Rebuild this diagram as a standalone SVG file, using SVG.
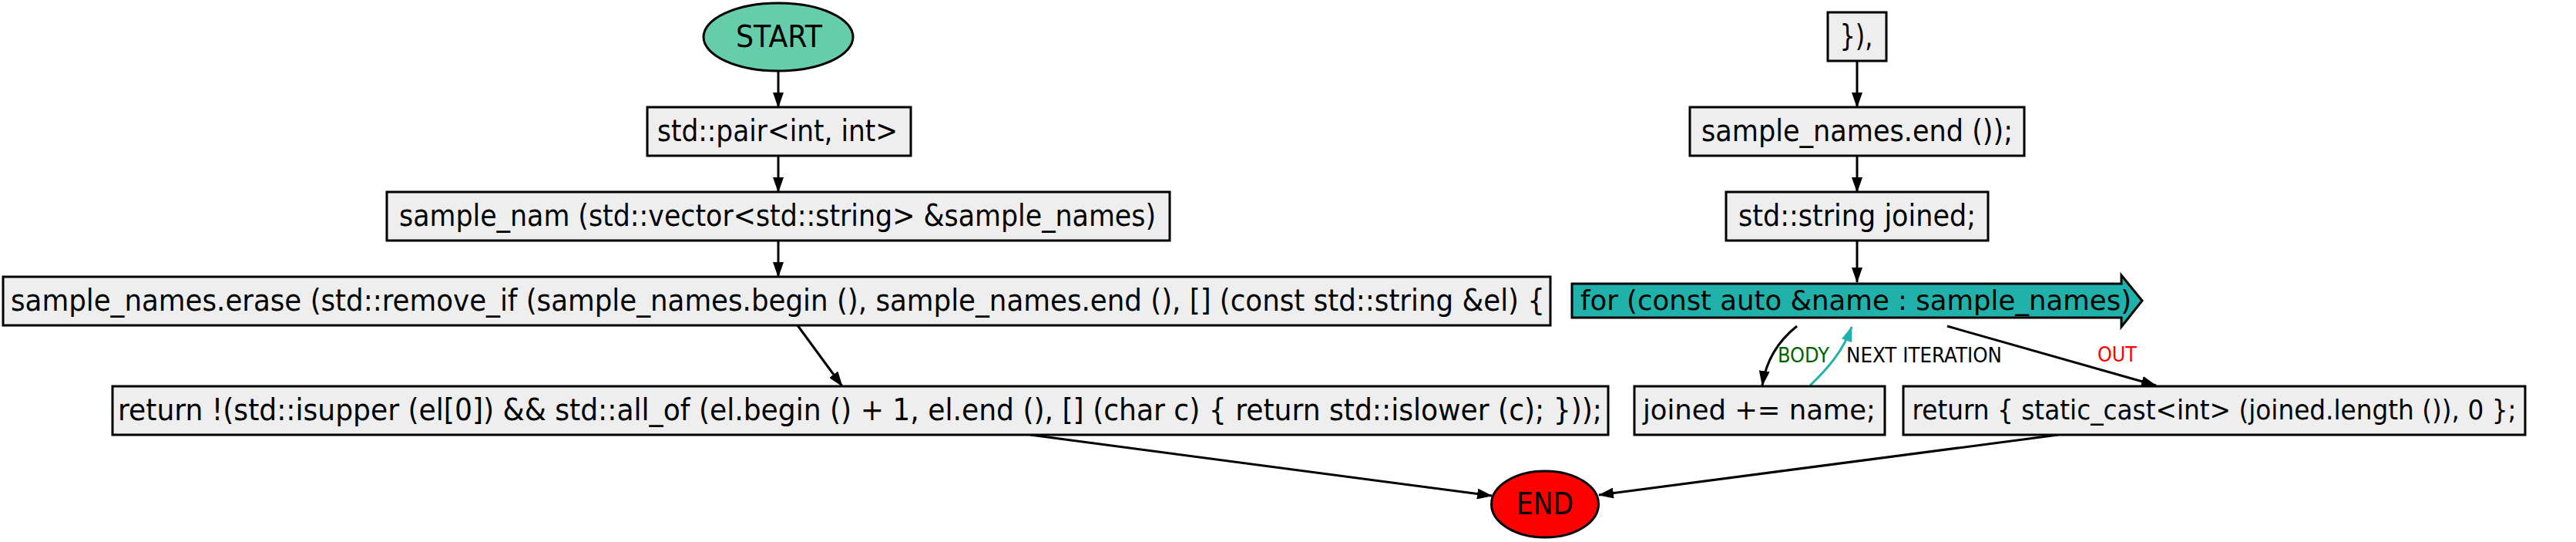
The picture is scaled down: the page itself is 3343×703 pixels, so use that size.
<svg xmlns="http://www.w3.org/2000/svg" width="3343" height="703" viewBox="0 0 3343 703">
<style>
text{font-family:"DejaVu Sans",sans-serif;}
.n{font-size:38.5px;text-anchor:middle;fill:#000;}
.box{fill:#eeeeee;stroke:#000;stroke-width:3;}
.e{fill:none;stroke:#000;stroke-width:3;}
.lbl{font-size:26.5px;}
</style>
<defs>
<marker id="ah" markerUnits="userSpaceOnUse" viewBox="0 0 20 14" refX="19" refY="7" markerWidth="20" markerHeight="14" orient="auto"><path d="M0,0 L20,7 L0,14 z" fill="#000"/></marker>
<marker id="aht" markerUnits="userSpaceOnUse" viewBox="0 0 20 14" refX="19" refY="7" markerWidth="20" markerHeight="14" orient="auto"><path d="M0,0 L20,7 L0,14 z" fill="#20b2aa"/></marker>
</defs>
<rect width="3343" height="703" fill="#fff"/>
<g id="connectors">
<path class="e" d="M1010,92 L1010,139" marker-end="url(#ah)"/>
<path class="e" d="M1010,202 L1010,249" marker-end="url(#ah)"/>
<path class="e" d="M1010,312 L1010,359" marker-end="url(#ah)"/>
<path class="e" d="M1035,422 L1093,501" marker-end="url(#ah)"/>
<path class="e" d="M1337,564 L1936,643" marker-end="url(#ah)"/>
<path class="e" d="M2410,79 L2410,139" marker-end="url(#ah)"/>
<path class="e" d="M2410,202 L2410,249" marker-end="url(#ah)"/>
<path class="e" d="M2410,312 L2410,366" marker-end="url(#ah)"/>
<path class="e" d="M2332,423 C2308,442 2292,466 2287,500" marker-end="url(#ah)"/>
<path class="e" d="M2349,500 C2372,478 2392,455 2403,424" style="stroke:#20b2aa" marker-end="url(#aht)"/>
<path class="e" d="M2527,423 L2798,500" marker-end="url(#ah)"/>
<path class="e" d="M2671,564 L2075,642" marker-end="url(#ah)"/>
<text class="lbl" x="2307" y="470" fill="#006400" textLength="67" lengthAdjust="spacingAndGlyphs">BODY</text>
<text class="lbl" x="2396" y="470" fill="#000" textLength="202" lengthAdjust="spacingAndGlyphs">NEXT ITERATION</text>
<text class="lbl" x="2722" y="469" fill="#ff0000" textLength="51" lengthAdjust="spacingAndGlyphs">OUT</text>
</g>
<g id="start"><ellipse cx="1010" cy="48" rx="97" ry="44" fill="#66cdaa" stroke="#000" stroke-width="3"/><text class="n" x="1011" y="61" textLength="112" lengthAdjust="spacingAndGlyphs">START</text></g>
<g id="n1"><rect class="box" x="840" y="139" width="342" height="63"/><text class="n" x="1009" y="183" textLength="312" lengthAdjust="spacingAndGlyphs">std::pair&lt;int, int&gt;</text></g>
<g id="n2"><rect class="box" x="502" y="249" width="1016" height="63"/><text class="n" x="1009" y="293" textLength="982" lengthAdjust="spacingAndGlyphs">sample_nam (std::vector&lt;std::string&gt; &amp;sample_names)</text></g>
<g id="n3"><rect class="box" x="4" y="359" width="2008" height="63"/><text class="n" x="1009.5" y="403" textLength="1991" lengthAdjust="spacingAndGlyphs">sample_names.erase (std::remove_if (sample_names.begin (), sample_names.end (), [] (const std::string &amp;el) {</text></g>
<g id="n4"><rect class="box" x="146" y="501" width="1941" height="63"/><text class="n" x="1116" y="545" textLength="1926" lengthAdjust="spacingAndGlyphs">return !(std::isupper (el[0]) &amp;&amp; std::all_of (el.begin () + 1, el.end (), [] (char c) { return std::islower (c); }));</text></g>
<g id="n5"><rect class="box" x="2372" y="16" width="76" height="63"/><text class="n" x="2409" y="60" textLength="43" lengthAdjust="spacingAndGlyphs">}),</text></g>
<g id="n6"><rect class="box" x="2193" y="139" width="434" height="63"/><text class="n" x="2410" y="183" textLength="404" lengthAdjust="spacingAndGlyphs">sample_names.end ());</text></g>
<g id="n7"><rect class="box" x="2240" y="249" width="340" height="63"/><text class="n" x="2410" y="293" textLength="308" lengthAdjust="spacingAndGlyphs">std::string joined;</text></g>
<g id="n8"><path d="M2040,368 L2753,368 L2753,357 L2780,390 L2753,424 L2753,412 L2040,412 Z" fill="#20b2aa" stroke="#000" stroke-width="3"/><text class="n" x="2408.5" y="402" style="font-size:35.5px" textLength="715" lengthAdjust="spacingAndGlyphs">for (const auto &amp;name : sample_names)</text></g>
<g id="n9"><rect class="box" x="2121" y="501" width="325" height="63"/><text class="n" x="2283" y="544" style="font-size:35.5px" textLength="302" lengthAdjust="spacingAndGlyphs">joined += name;</text></g>
<g id="n10"><rect class="box" x="2470" y="501" width="807" height="63"/><text class="n" x="2873.5" y="544" style="font-size:36px" textLength="784" lengthAdjust="spacingAndGlyphs">return { static_cast&lt;int&gt; (joined.length ()), 0 };</text></g>
<g id="end"><ellipse cx="2005" cy="654" rx="69.5" ry="43" fill="#ff0000" stroke="#000" stroke-width="3"/><text class="n" x="2005" y="667" textLength="74" lengthAdjust="spacingAndGlyphs">END</text></g>
</svg>
